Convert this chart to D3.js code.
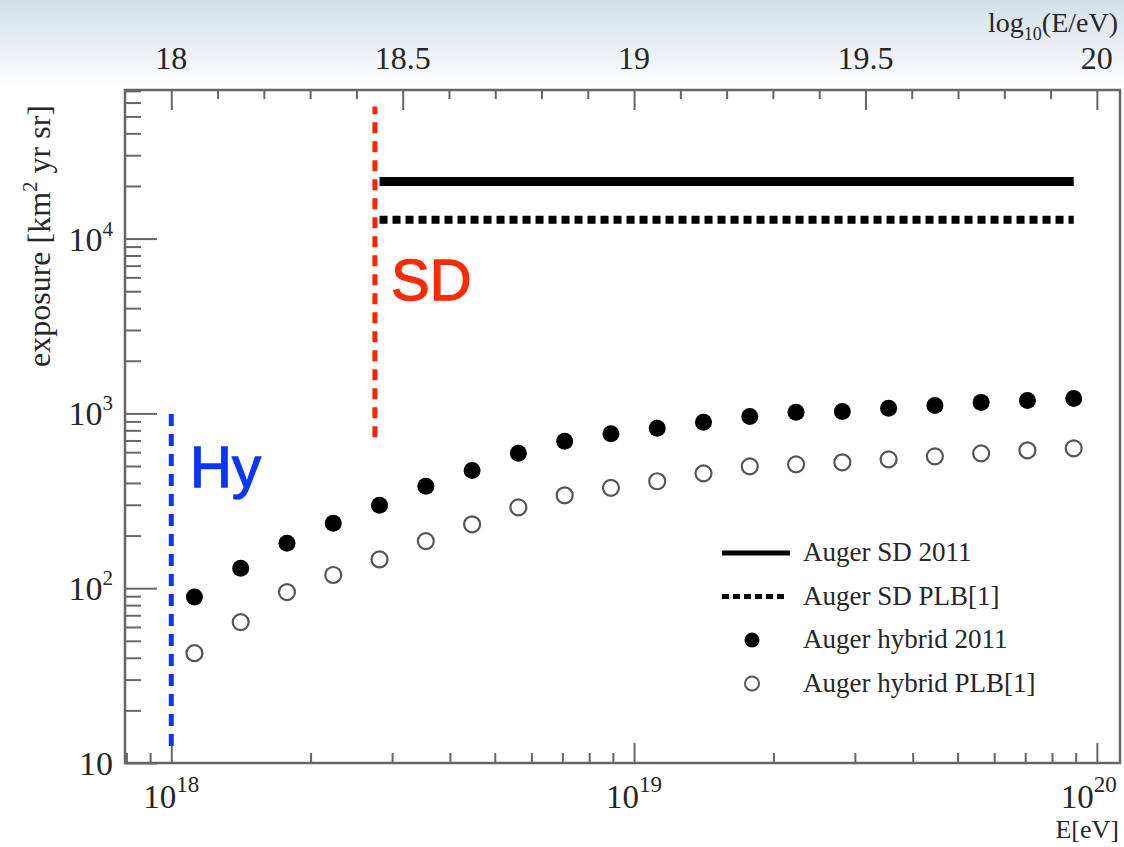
<!DOCTYPE html>
<html>
<head>
<meta charset="utf-8">
<script src="https://cdn.jsdelivr.net/npm/d3@7"></script>
<style>
  body { margin: 0; background: #fff; }
  svg text { font-family: "Liberation Serif", "DejaVu Serif", serif; fill: #262626; }
</style>
</head>
<body>
<svg id="chart" width="1124" height="847"></svg>
<script>
// log10(E/eV) bin centres
var logE = [18.05, 18.15, 18.25, 18.35, 18.45, 18.55, 18.65, 18.75, 18.85, 18.95,
            19.05, 19.15, 19.25, 19.35, 19.45, 19.55, 19.65, 19.75, 19.85, 19.95]
var hybrid2011 = [89, 130, 181, 235, 298, 383, 472, 591, 692, 764,
                  821, 889, 961, 1014, 1026, 1069, 1111, 1156, 1186, 1218]
var hybridPLB = [42.5, 64, 95, 119, 146, 186, 232, 290, 340, 375,
                 409, 454, 498, 511, 525, 546, 568, 591, 615, 631]
var sdRange = [18.45, 19.95]
var sd2011 = 21200
var sdPLB = 12800
var topTicks = [18, 18.5, 19, 19.5, 20]
var xMajor = [18, 19, 20]
var yMajor = [1, 2, 3, 4]
var legendLabels = ["Auger SD 2011", "Auger SD PLB[1]", "Auger hybrid 2011", "Auger hybrid PLB[1]"]
// annotation markers: [logE, yLow, yHigh]
var sdMark = [18.44, 730, 57000]
var hyMark = [18.0, 12.5, 1050]

var svg = d3.select("#chart")
var L = 125, R = 1120, T = 90, B = 763

// slide background fade at top
var defs = svg.append("defs")
var grad = defs.append("linearGradient").attr("id", "bg").attr("x1", 0).attr("y1", 0).attr("x2", 0).attr("y2", 1)
grad.append("stop").attr("offset", 0).attr("stop-color", "#d4dfe9")
grad.append("stop").attr("offset", 1).attr("stop-color", "#ffffff")
svg.append("rect").attr("width", 1124).attr("height", 90).attr("fill", "url(#bg)")

var x = d3.scaleLog().domain([Math.pow(10, 17.9), Math.pow(10, 20.05)]).range([L, R])
var xTop = d3.scaleLinear().domain([17.9, 20.05]).range([L, R])
var y = d3.scaleLog().domain([10, Math.pow(10, 4.85)]).range([B, T])

var ax = "#666"
function minorsLog(lo, hi) {
    var out = []
    for (var e = lo; e <= hi; e++)
        for (var k = 2; k <= 9; k++) out.push(k * Math.pow(10, e))
    return out
}

// bottom ticks
var xd = x.domain()
var xMin = minorsLog(17, 19).filter(function(v) { return v > xd[0] && v < xd[1] })
svg.append("g").attr("transform", "translate(0," + B + ")")
    .call(d3.axisBottom(x).tickValues(xMin).tickSize(-10).tickFormat(""))
svg.append("g").attr("transform", "translate(0," + B + ")")
    .call(d3.axisBottom(x).tickValues(xMajor.map(function(e) { return Math.pow(10, e) })).tickSize(-20).tickFormat(""))

// left ticks
var yd = y.domain()
var yMin = minorsLog(1, 4).filter(function(v) { return v > yd[0] && v < yd[1] })
svg.append("g").attr("transform", "translate(" + L + ",0)")
    .call(d3.axisLeft(y).tickValues(yMin).tickSize(-16).tickFormat(""))
svg.append("g").attr("transform", "translate(" + L + ",0)")
    .call(d3.axisLeft(y).tickValues(yMajor.map(function(e) { return Math.pow(10, e) })).tickSize(-32).tickFormat(""))

// top ticks (every 0.1, longer at 0.5)
var topMinor = d3.range(180, 201).map(function(v) { return v / 10 }).filter(function(v) { return topTicks.indexOf(v) < 0 })
svg.append("g").attr("transform", "translate(0," + T + ")")
    .call(d3.axisTop(xTop).tickValues(topMinor).tickSize(-9).tickFormat(""))
svg.append("g").attr("transform", "translate(0," + T + ")")
    .call(d3.axisTop(xTop).tickValues(topTicks).tickSize(-20).tickFormat(""))

svg.selectAll(".domain").remove()
svg.selectAll(".tick line").attr("stroke", ax).attr("stroke-width", 2)

svg.append("rect").attr("x", L).attr("y", T).attr("width", R - L).attr("height", B - T)
    .attr("fill", "none").attr("stroke", ax).attr("stroke-width", 2.5)

// tick labels
svg.selectAll(".toplab").data(topTicks).enter().append("text")
    .attr("x", function(d) { return xTop(d) }).attr("y", 69)
    .attr("text-anchor", "middle").attr("font-size", 32).text(function(d) { return d })

var tl = svg.append("text").attr("x", 1118).attr("y", 32).attr("text-anchor", "end").attr("font-size", 28)
tl.append("tspan").text("log")
tl.append("tspan").attr("dy", 8).attr("font-size", 18).text("10")
tl.append("tspan").attr("dy", -8).text("(E/eV)")

xMajor.forEach(function(e) {
    var t = svg.append("text").attr("x", x(Math.pow(10, e)) + (e == 20 ? -8 : 0)).attr("y", 808)
        .attr("text-anchor", "middle").attr("font-size", 33)
    t.append("tspan").text("10")
    t.append("tspan").attr("dy", -16).attr("font-size", 23).text(e)
})
svg.append("text").attr("x", 1119).attr("y", 838).attr("text-anchor", "end").attr("font-size", 26).text("E[eV]")

yMajor.forEach(function(e) {
    var t = svg.append("text").attr("x", 113).attr("y", y(Math.pow(10, e)) + 12)
        .attr("text-anchor", "end").attr("font-size", 34)
    t.append("tspan").text("10")
    if (e > 1) t.append("tspan").attr("dy", -15).attr("font-size", 21).text(e)
})

var yl = svg.append("text").attr("transform", "translate(50,236) rotate(-90)")
    .attr("text-anchor", "middle").attr("font-size", 32)
yl.append("tspan").text("exposure [km")
yl.append("tspan").attr("dy", -13).attr("font-size", 21).text("2")
yl.append("tspan").attr("dy", 13).text(" yr sr]")

// annotation markers
svg.append("line").attr("x1", xTop(sdMark[0])).attr("x2", xTop(sdMark[0]))
    .attr("y1", y(sdMark[1])).attr("y2", y(sdMark[2]))
    .attr("stroke", "#ff2200").attr("stroke-width", 5).attr("stroke-dasharray", "11,8")
svg.append("line").attr("x1", xTop(hyMark[0])).attr("x2", xTop(hyMark[0]))
    .attr("y1", y(hyMark[1])).attr("y2", y(hyMark[2]))
    .attr("stroke", "#0a35ff").attr("stroke-width", 5).attr("stroke-dasharray", "12,8")
svg.append("text").attr("x", 391).attr("y", 300).attr("font-size", 58)
    .style("font-family", "'Liberation Sans', Arial, sans-serif").style("fill", "#ff2a00")
    .style("stroke", "#ff2a00").style("stroke-width", 1.3).text("SD")
svg.append("text").attr("x", 190).attr("y", 487).attr("font-size", 58)
    .style("font-family", "'Liberation Sans', Arial, sans-serif").style("fill", "#0a35ff")
    .style("stroke", "#0a35ff").style("stroke-width", 1.3).text("Hy")

// SD exposure lines
svg.append("line").attr("x1", xTop(sdRange[0])).attr("x2", xTop(sdRange[1]))
    .attr("y1", y(sd2011)).attr("y2", y(sd2011)).attr("stroke", "#000").attr("stroke-width", 9)
svg.append("line").attr("x1", xTop(sdRange[0])).attr("x2", xTop(sdRange[1]))
    .attr("y1", y(sdPLB)).attr("y2", y(sdPLB)).attr("stroke", "#000").attr("stroke-width", 8)
    .attr("stroke-dasharray", "8,5")

// hybrid points
svg.selectAll(".hp").data(logE).enter().append("circle")
    .attr("cx", function(d) { return xTop(d) }).attr("cy", function(d, i) { return y(hybridPLB[i]) })
    .attr("r", 8).attr("fill", "none").attr("stroke", "#555").attr("stroke-width", 2.2)
svg.selectAll(".h11").data(logE).enter().append("circle")
    .attr("cx", function(d) { return xTop(d) }).attr("cy", function(d, i) { return y(hybrid2011[i]) })
    .attr("r", 8.5).attr("fill", "#000")

// legend
var lg = svg.append("g").attr("transform", "translate(722,553)")
legendLabels.forEach(function(s, i) {
    var gy = i * 43.5
    if (i == 0) lg.append("line").attr("x1", 0).attr("x2", 68).attr("y1", gy).attr("y2", gy).attr("stroke", "#000").attr("stroke-width", 5)
    if (i == 1) lg.append("line").attr("x1", 0).attr("x2", 62).attr("y1", gy).attr("y2", gy).attr("stroke", "#000").attr("stroke-width", 5).attr("stroke-dasharray", "7,4")
    if (i == 2) lg.append("circle").attr("cx", 30).attr("cy", gy).attr("r", 7.5).attr("fill", "#000")
    if (i == 3) lg.append("circle").attr("cx", 30).attr("cy", gy).attr("r", 7).attr("fill", "none").attr("stroke", "#555").attr("stroke-width", 2)
    lg.append("text").attr("x", 81).attr("y", gy + 8).attr("font-size", 27).text(s)
})
</script>
</body>
</html>
